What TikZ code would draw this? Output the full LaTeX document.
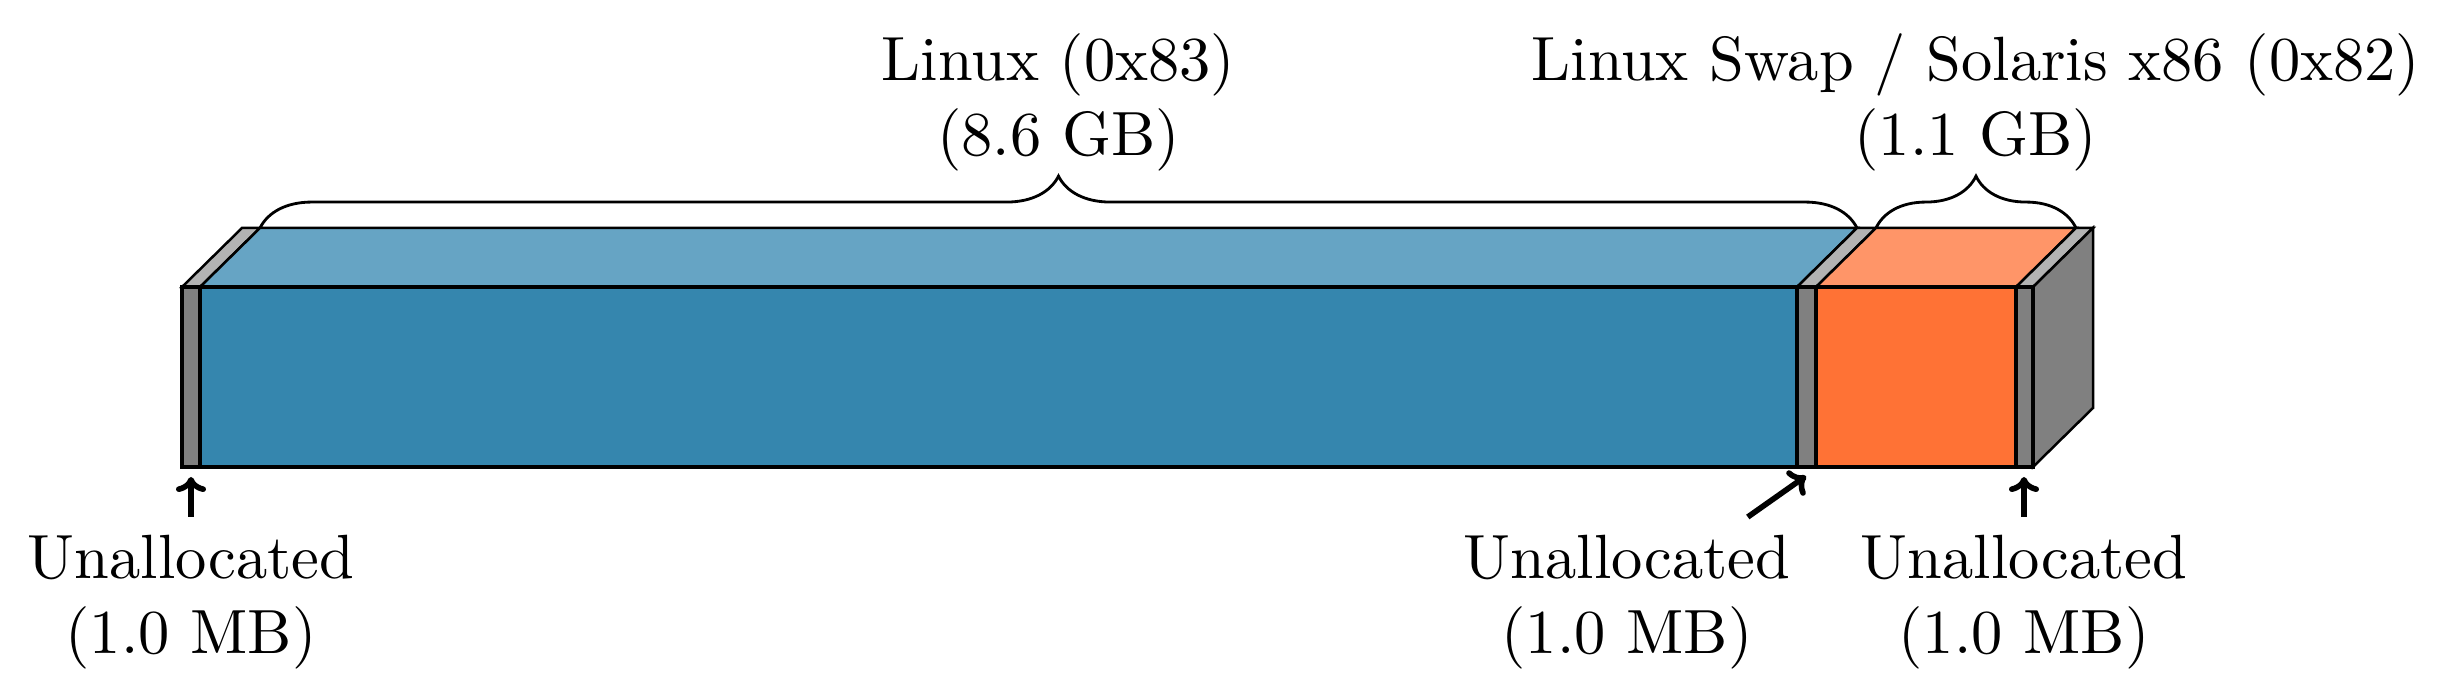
\documentclass[tikz,border=0pt]{standalone}
\usetikzlibrary{decorations.pathreplacing,arrows.meta}
\definecolor{bluefront}{RGB}{53,134,174}
\definecolor{bluetop}{RGB}{102,164,196}
\definecolor{orangefront}{RGB}{255,114,53}
\definecolor{orangetop}{RGB}{255,149,104}
\definecolor{grayfront}{RGB}{128,128,128}
\definecolor{graytop}{RGB}{179,179,179}
\begin{document}
\begin{tikzpicture}[x=0.16pt,y=-0.16pt,
  frontface/.style={draw=black,line width=0.6pt},
  topface/.style={draw=black,line width=0.4pt},
  sideface/.style={draw=black,line width=0.4pt},
  bracedeco/.style={decorate,decoration={brace,amplitude=8.3pt},line width=0.45pt},
  toplabel/.style={align=center,anchor=south,inner sep=0.5pt},
  botlabel/.style={align=center,anchor=north,inner sep=2.7pt},
  pointer/.style={-{To[length=2.4pt,width=4.8pt]},line width=0.9pt}]
\useasboundingbox (0,0) rectangle (2449,686);
% top faces
\foreach \a/\b/\c in {182/200/graytop,200/1797/bluetop,1797/1816/graytop,1816/2016/orangetop,2016/2033/graytop}{
  \filldraw[topface,fill=\c] (\a,287) -- (\b,287) -- ++(60,-59) -- (\a+60,228) -- cycle;
}
% right side
\filldraw[sideface,fill=grayfront] (2033,287) -- (2093,228) -- (2093,408) -- (2033,467) -- cycle;
% front faces
\foreach \a/\b/\c in {182/200/grayfront,200/1797/bluefront,1797/1816/grayfront,1816/2016/orangefront,2016/2033/grayfront}{
  \filldraw[frontface,fill=\c] (\a,287) rectangle (\b,467);
}
% braces
\draw[bracedeco] (260,228) -- (1857,228);
\draw[bracedeco] (1876,228) -- (2076,228);
% top labels
\node[toplabel] (linuxlbl) at (1058.5,176) {Linux (0x83)\\(8.6 GB)};
\node[toplabel] (swaplbl) at (1976,176) {Linux Swap / Solaris x86 (0x82)\\(1.1 GB)};
% bottom labels
\node[botlabel] (un1) at (191,517) {Unallocated\\(1.0 MB)};
\node[botlabel] (un2) at (1627,517) {Unallocated\\(1.0 MB)};
\node[botlabel] (un3) at (2024,517) {Unallocated\\(1.0 MB)};
\coordinate (gap1) at (191,477);
\coordinate (gap2) at (1806,476);
\coordinate (gap3) at (2024,477);
\draw[pointer] (un1) -- (gap1);
\draw[pointer] (un2) -- (gap2);
\draw[pointer] (un3) -- (gap3);
\end{tikzpicture}
\end{document}
